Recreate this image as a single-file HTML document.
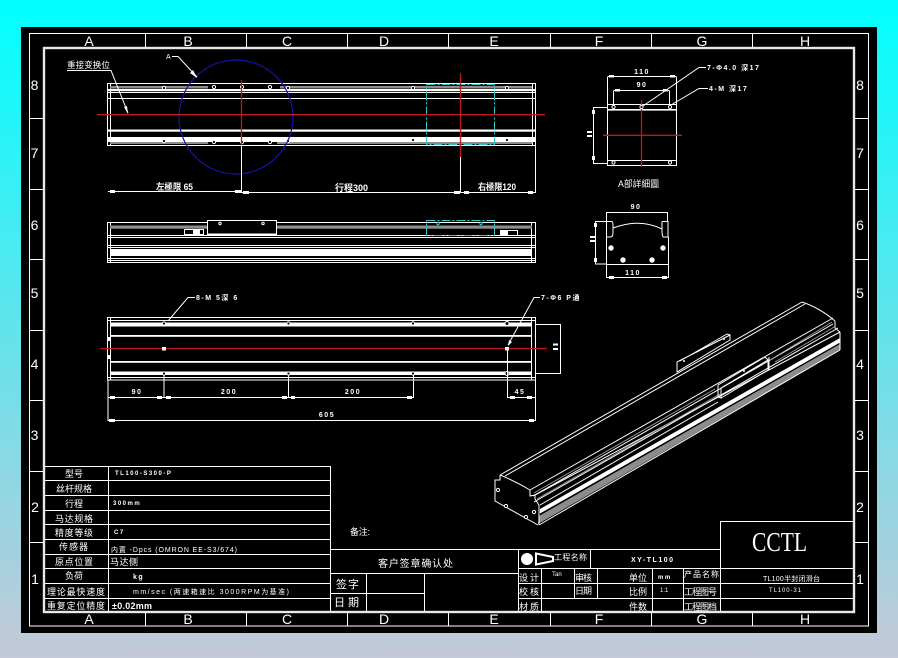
<!DOCTYPE html>
<html lang="zh">
<head>
<meta charset="utf-8">
<title>CCTL XY-TL100</title>
<style>
html,body{margin:0;padding:0;width:898px;height:658px;overflow:hidden;background:linear-gradient(180deg,#00ffff 0,#c4c8d8 100%)}
svg{position:absolute;left:0;top:0;display:block}
text{fill:#fff;font-family:"Liberation Sans","WenQuanYi Zen Hei","Noto Sans CJK SC",sans-serif;font-size:9px}
.o{fill:none;stroke:#fff;stroke-width:1}
.h{fill:none;stroke:#fff;stroke-width:1.6}
.r{fill:none;stroke:#c01818;stroke-width:1.3}
.c{fill:none;stroke:#30c8c8;stroke-width:1;stroke-dasharray:9 2 2 2}
.g{fill:#8c8c8c}
.w{fill:#fff}
.l{font-size:14px;text-anchor:middle;font-weight:400}
.m{text-anchor:middle}
.s{font-size:7px;letter-spacing:1.5px;font-weight:700}
</style>
</head>
<body>
<svg width="898" height="658" viewBox="0 0 898 658" xmlns="http://www.w3.org/2000/svg">
<rect x="21" y="27" width="856" height="606" fill="#000"/>
<!-- frame -->
<rect class="o" x="29.5" y="33.5" width="839" height="592.5"/>
<rect x="44" y="48" width="810" height="564" fill="none" stroke="#e8e8e8" stroke-width="2.4"/>
<path class="o" d="M145.5 33v14M246.5 33v14M347.5 33v14M448.5 33v14M550.5 33v14M651.5 33v14M752.5 33v14M145.5 613v13M246.5 613v13M347.5 613v13M448.5 613v13M550.5 613v13M651.5 613v13M752.5 613v13"/>
<path class="o" d="M30 118.5h13M30 189.5h13M30 259.5h13M30 330.5h13M30 400.5h13M30 471.5h13M30 542.5h13M855 118.5h13M855 189.5h13M855 259.5h13M855 330.5h13M855 400.5h13M855 471.5h13M855 542.5h13"/>
<g class="l">
<text class="l" x="89" y="46">A</text><text class="l" x="188" y="46">B</text><text class="l" x="287" y="46">C</text><text class="l" x="384" y="46">D</text><text class="l" x="494" y="46">E</text><text class="l" x="599" y="46">F</text><text class="l" x="702" y="46">G</text><text class="l" x="805" y="46">H</text>
<text class="l" x="89" y="624">A</text><text class="l" x="188" y="624">B</text><text class="l" x="287" y="624">C</text><text class="l" x="384" y="624">D</text><text class="l" x="494" y="624">E</text><text class="l" x="599" y="624">F</text><text class="l" x="702" y="624">G</text><text class="l" x="805" y="624">H</text>
<text class="l" x="34.5" y="90">8</text><text class="l" x="34.5" y="158">7</text><text class="l" x="34.5" y="230">6</text><text class="l" x="34.5" y="298">5</text><text class="l" x="34.5" y="369">4</text><text class="l" x="34.5" y="440">3</text><text class="l" x="35" y="512">2</text><text class="l" x="35" y="584">1</text>
<text class="l" x="860" y="90">8</text><text class="l" x="860" y="158">7</text><text class="l" x="860" y="230">6</text><text class="l" x="860" y="298">5</text><text class="l" x="860" y="369">4</text><text class="l" x="860" y="440">3</text><text class="l" x="860" y="512">2</text><text class="l" x="860" y="584">1</text>
</g>

<!-- top view -->
<rect class="o" x="107.5" y="83.5" width="428" height="62"/>
<path class="o" d="M110.5 84v61M532.5 84v61M108 98.5h427M108 92.5h427"/>
<rect class="g" x="110" y="86" width="98" height="2.5"/>
<rect class="g" x="280" y="86" width="252" height="2.5"/>
<rect class="w" x="108" y="89" width="427" height="2.2"/>
<rect class="w" x="108" y="129.5" width="427" height="2.2"/>
<rect class="w" x="108" y="137" width="427" height="5"/>
<rect class="g" x="110" y="142" width="98" height="2"/>
<rect class="g" x="277" y="142" width="255" height="2"/>
<g fill="#000" stroke="#fff">
<circle cx="164" cy="88" r="1.6"/><circle cx="214" cy="87" r="1.6"/><circle cx="242" cy="87" r="1.6"/><circle cx="270" cy="87" r="1.6"/><circle cx="288" cy="88" r="1.6"/><circle cx="413" cy="88" r="1.6"/><circle cx="507" cy="88" r="1.6"/>
<circle cx="164" cy="141" r="1.6"/><circle cx="214" cy="142" r="1.6"/><circle cx="242" cy="142" r="1.6"/><circle cx="270" cy="142" r="1.6"/><circle cx="288" cy="141" r="1.6"/><circle cx="413" cy="140" r="1.6"/><circle cx="507" cy="140" r="1.6"/>
</g>
<rect class="c" x="426.5" y="84.5" width="68" height="60"/>
<circle cx="236" cy="117" r="57" fill="none" stroke="#1414a8" stroke-width="1.2"/>
<path class="r" d="M97 114.7H545M241.5 80V145M460.5 73V157"/>
<path class="o" d="M241.5 145V192M460.5 157V192M108 191.5H241M241 192.5H535.5M535.5 146V193"/>
<rect class="w" x="110" y="190" width="5" height="3"/><rect class="w" x="235" y="190" width="6" height="3"/><rect class="w" x="243" y="191" width="6" height="3"/><rect class="w" x="454" y="191" width="6" height="3"/><rect class="w" x="464" y="191" width="5" height="3"/><rect class="w" x="528" y="191" width="5" height="3"/>
<text x="156" y="190" textLength="37" lengthAdjust="spacingAndGlyphs" font-weight="700">左極限 65</text>
<text x="335" y="191" textLength="33" lengthAdjust="spacingAndGlyphs" font-weight="700">行程300</text>
<text x="478" y="190" textLength="38" lengthAdjust="spacingAndGlyphs" font-weight="700">右極限120</text>
<text x="67" y="68" textLength="43" lengthAdjust="spacingAndGlyphs" style="font-size:8.5px">重接变换位</text>
<path class="o" d="M67 70.5H111L128 113"/><path d="M128 114L124 107L127 106Z" class="w"/>
<text x="166" y="59" style="font-size:7px">A</text>
<path class="o" d="M172 56.5H178L197 77"/><path d="M197 78L190 73L193 70Z" class="w"/>

<!-- front view -->
<rect class="o" x="107.5" y="222.5" width="428" height="40"/>
<path class="o" d="M110.5 223v39M531.5 223v39M108 235.5h427M108 237.5h427M108 245.5h427M108 247.5h427M108 258.5h427M108 260.5h427"/>
<rect class="g" x="110" y="225.5" width="422" height="3.2"/>
<rect class="w" x="110" y="249" width="422" height="7"/>
<rect x="207.5" y="220.5" width="69" height="14" fill="#000" stroke="#fff"/>
<rect class="w" x="208" y="233.5" width="69" height="1.4"/>
<circle cx="220" cy="223.5" r="1.2" class="o"/><circle cx="263" cy="223.5" r="1.2" class="o"/>
<rect x="184.5" y="229.5" width="19" height="5" fill="#000" stroke="#fff"/><rect class="w" x="193" y="230" width="7" height="4"/>
<rect x="500.5" y="230.5" width="17" height="5" fill="#000" stroke="#fff"/><rect class="w" x="501" y="231" width="7" height="4"/>
<rect class="c" x="426.5" y="220.5" width="68" height="15"/>
<circle cx="438" cy="223.5" r="1.2" fill="none" stroke="#30c8c8"/><circle cx="481" cy="223.5" r="1.2" fill="none" stroke="#30c8c8"/>

<!-- bottom view -->
<rect class="o" x="107.5" y="317.5" width="428" height="62.5"/>
<path class="o" d="M110.5 318v62M531.5 318v62M108 320.5h427M108 377.5h427"/>
<rect class="w" x="110" y="322.5" width="422" height="4"/>
<rect class="w" x="110" y="335" width="422" height="1.8"/>
<rect class="w" x="110" y="361" width="422" height="1.8"/>
<rect class="w" x="110" y="371.5" width="422" height="3.5"/>
<path class="r" d="M100 348.5H547"/>
<g fill="#000" stroke="#fff">
<circle cx="164" cy="323.5" r="1.6"/><circle cx="288.5" cy="323.5" r="1.6"/><circle cx="413" cy="323.5" r="1.6"/><circle cx="507" cy="323.5" r="2"/>
<circle cx="164" cy="373.5" r="1.6"/><circle cx="288.5" cy="373.5" r="1.6"/><circle cx="413" cy="373.5" r="1.6"/><circle cx="507" cy="373.5" r="2"/>
</g>
<rect class="w" x="162" y="347" width="4" height="3.5"/><rect class="w" x="505" y="347" width="4" height="3.5"/>
<rect class="w" x="108" y="337" width="3" height="4"/><rect class="w" x="108" y="355" width="3" height="4"/>
<path class="o" d="M164 375V398M288.5 375V398M413.5 375V398M507.5 349V398M108 380V421M535.5 380V421M108 397.5H413.5M507.5 397.5H535.5M108 420.5H535.5M536 324.5H560.5V373.5H536"/>
<g class="w"><rect x="110" y="396" width="5" height="3"/><rect x="157" y="396" width="5" height="3"/><rect x="166" y="396" width="5" height="3"/><rect x="282" y="396" width="5" height="3"/><rect x="291" y="396" width="4" height="3"/><rect x="407" y="396" width="5" height="3"/><rect x="510" y="396" width="5" height="3"/><rect x="527" y="396" width="5" height="3"/><rect x="109" y="419" width="6" height="3"/><rect x="529" y="419" width="5" height="3"/></g>
<text class="s m" x="137" y="394">90</text><text class="s m" x="229" y="394">200</text><text class="s m" x="353" y="394">200</text><text class="s m" x="520" y="394">45</text><text class="s m" x="327" y="417">605</text>
<rect class="w" x="553" y="343.5" width="5" height="2"/><rect class="w" x="553" y="348" width="5" height="2"/>
<text class="s" x="196" y="300">8-M 5深 6</text>
<path class="o" d="M195 297.5H188L168 321"/>
<text class="s" x="541" y="300">7-Φ6 P通</text>
<path class="o" d="M540 297.5H534L508 345"/><path class="w" d="M508 346L509 340L512 342Z"/>

<!-- detail A -->
<rect class="o" x="607.5" y="104.5" width="69" height="61"/>
<rect class="w" x="607" y="109" width="70" height="1.6"/>
<path class="o" d="M607 160.5H677M607.5 76.5H676.5M607.5 77V104M676.5 77V104M613.5 90.5H669.5M613.5 91V105M669.5 91V105M608 107.5H593.5V163.5H608"/>
<g class="w"><rect x="609" y="75" width="5" height="2.5"/><rect x="670" y="75" width="5" height="2.5"/><rect x="615" y="89" width="5" height="2.5"/><rect x="663" y="89" width="5" height="2.5"/><rect x="592" y="110" width="3" height="4"/><rect x="592" y="156" width="3" height="4"/></g>
<path class="r" d="M603 135.3H682M641.5 100V167"/>
<g fill="#000" stroke="#fff"><circle cx="613.5" cy="107" r="1.6"/><circle cx="641.5" cy="107" r="1.6"/><circle cx="670" cy="107" r="1.6"/><circle cx="613.5" cy="162.5" r="1.6"/><circle cx="670" cy="162.5" r="1.6"/></g>
<text class="s m" x="642" y="74">110</text><text class="s m" x="642" y="87">90</text>
<rect class="w" x="587" y="131" width="5" height="2"/><rect class="w" x="587" y="135" width="5" height="2"/>
<path class="o" d="M706 67.5H699L643 106M708 88.5H699L671 105"/>
<text class="s" x="707" y="70">7-Φ4.0 深17</text>
<text class="s" x="709" y="91">4-M 深17</text>
<text x="618" y="187" textLength="41" lengthAdjust="spacingAndGlyphs" style="font-size:9px">A部詳細圖</text>

<!-- end view -->
<path class="o" d="M606.5 212.5H667.5M606.5 212V278M668.5 237V278M606.5 264.5H668M606.5 277.5H668.5M607 221.5H595.5V264H607"/>
<path class="o" d="M612 221.5H606.5M612 221.5Q613 222 613 226V233Q613 237 610 237H607M662 221.5H668V237H663Q662 235 662 231V226Q662 223 662 221.5M613 228Q640 218 662 229"/>
<path class="o" d="M606.5 212L606.5 221M667.5 212V221"/>
<g fill="#fff" stroke="#fff"><circle cx="611" cy="248" r="2.2"/><circle cx="663" cy="248" r="2.2"/><circle cx="623" cy="260" r="2.2"/><circle cx="652" cy="260" r="2.2"/></g>
<g class="w"><rect x="594" y="223" width="3" height="4"/><rect x="594" y="258" width="3" height="4"/><rect x="609" y="276" width="5" height="3"/><rect x="662" y="276" width="5" height="3"/></g>
<text class="s m" x="636" y="209">90</text><text class="s m" x="633" y="275">110</text>
<rect class="w" x="590" y="236" width="5" height="2"/><rect class="w" x="590" y="240" width="5" height="2"/>

<!-- isometric -->
<polygon class="g" points="539,516 840,344 840,350 538,524"/>
<polygon class="w" points="540,509 840,338 840,342 540,513"/>
<path class="o" d="M500 475L802 302M505 476L805 304M530 490L833 318M535 495L840 332M539 505V525M539 525L840 350M840 332V350"/>
<path class="o" d="M802 302Q820 308 835 321M835 321V328L840 332"/>
<path class="o" d="M500 475Q515 481 530 490V496L535 495V499L539 505M500 475V480L495 480V501L538 525M495 501L495 480"/>
<path d="M533 496L833 324M534 502L838 328" class="o"/>
<path stroke="#999" stroke-width="1" fill="none" d="M534 493L715 389M537 499L720 394M770 360L832 322M775 362L836 326"/>
<path class="o" d="M540 513L840 342M540 505L718 402"/>
<!-- carriages -->
<path class="o" d="M677 362V372L730 340V335L677 362M680 361L727 334L730 335M677 372L690 364"/>
<path class="o" d="M718 385V397L721 398V388L768 360V370L721 398M718 385L765 357L768 360M769 357V370"/>
<g fill="#000" stroke="#fff"><circle cx="498" cy="490" r="1.6"/><circle cx="506" cy="506" r="1.6"/><circle cx="526" cy="517" r="1.6"/><circle cx="534" cy="512" r="1.6"/></g>
<circle class="w" cx="684" cy="361" r="1"/><circle class="w" cx="724" cy="339" r="1"/><circle class="w" cx="744" cy="371" r="1"/>

<!-- left table -->
<path class="o" d="M45 466.5H330.5V612M45 480.5H331M45 495.5H331M45 510.5H331M45 524.5H331M45 539.5H331M45 554.5H331M45 568.5H331M45 583.5H331M45 598.5H331M108.5 466V612"/>
<g style="font-size:9px">
<text x="65" y="477" textLength="18">型号</text>
<text x="56" y="492" textLength="36">丝杆规格</text>
<text x="65" y="507" textLength="18">行程</text>
<text x="55" y="522" textLength="38">马达规格</text>
<text x="55" y="536" textLength="38">精度等级</text>
<text x="59" y="550" textLength="29">传感器</text>
<text x="55" y="565" textLength="38">原点位置</text>
<text x="65" y="579" textLength="18">负荷</text>
<text x="47" y="595" textLength="58">理论最快速度</text>
<text x="47" y="609" textLength="58">重复定位精度</text>
<text class="s" x="115" y="475" style="font-size:6px">TL100-S300-P</text>
<text class="s" x="113" y="505" style="font-size:6px">300mm</text>
<text class="s" x="114" y="534" style="font-size:6px">C7</text>
<text x="111" y="552" textLength="126" style="font-size:7px">内置 -Dpcs (OMRON EE-S3/674)</text>
<text x="110" y="565" textLength="28">马达侧</text>
<text class="s" x="133" y="579">kg</text>
<text x="133" y="594" textLength="156" style="font-size:7px">mm/sec (两速箱速比 3000RPM为基准)</text>
<text x="112" y="609" textLength="40" font-weight="700">±0.02mm</text>
<text x="350" y="535" textLength="20">备注:</text>
</g>

<!-- customer block -->
<path class="o" d="M331 549.5H720M331 573.5H518M331 593.5H424.5M366.5 574V612M424.5 574V612"/>
<text x="378" y="567" textLength="75" style="font-size:10px">客户签章确认处</text>
<text x="336" y="588" textLength="23" style="font-size:11px">签字</text>
<text x="334" y="606" textLength="25" style="font-size:11px">日期</text>

<!-- title block -->
<path class="o" d="M518.5 549V612M518 568.5H853M518 583.5H853M518 598.5H853M590.5 549V568M541.5 568V612M574.5 568V598M597.5 568V598M652.5 568V612M683.5 568V612M720.5 521.5V612M720 521.5H853"/>
<circle class="w" cx="527" cy="559" r="6"/>
<path d="M536 553.5L553 557V561L536 564.5Z" fill="#000" stroke="#fff" stroke-width="2"/>
<text x="554" y="560" textLength="33" style="font-size:8px">工程名称</text>
<text class="s" x="631" y="562" style="font-size:7px">XY-TL100</text>
<text x="752" y="551" textLength="55" lengthAdjust="spacingAndGlyphs" style="font-family:'Liberation Serif',serif;font-size:27px;font-weight:400">CCTL</text>
<g style="font-size:8px">
<text x="519" y="581" textLength="20">设计</text>
<text x="552" y="576" style="font-size:6px">Tan</text>
<text x="575" y="581" textLength="17">审核</text>
<text x="629" y="581" textLength="18">单位</text>
<text class="s" x="658" y="579" style="font-size:6px">mm</text>
<text x="684" y="577" textLength="35" style="font-size:8px">产品名称</text>
<text x="763" y="581" textLength="57" style="font-size:7px">TL100半封闭滑台</text>
<text x="519" y="595" textLength="20">校核</text>
<text x="575" y="594" textLength="17">日期</text>
<text x="629" y="595" textLength="18">比例</text>
<text x="660" y="592" style="font-size:6px">1:1</text>
<text x="684" y="595" textLength="33">工程图号</text>
<text x="769" y="592" textLength="32" style="font-size:6px">TL100-31</text>
<text x="519" y="610" textLength="20">材质</text>
<text x="629" y="610" textLength="18">件数</text>
<text x="684" y="610" textLength="33">工程图档</text>
</g>
</svg>
</body>
</html>
